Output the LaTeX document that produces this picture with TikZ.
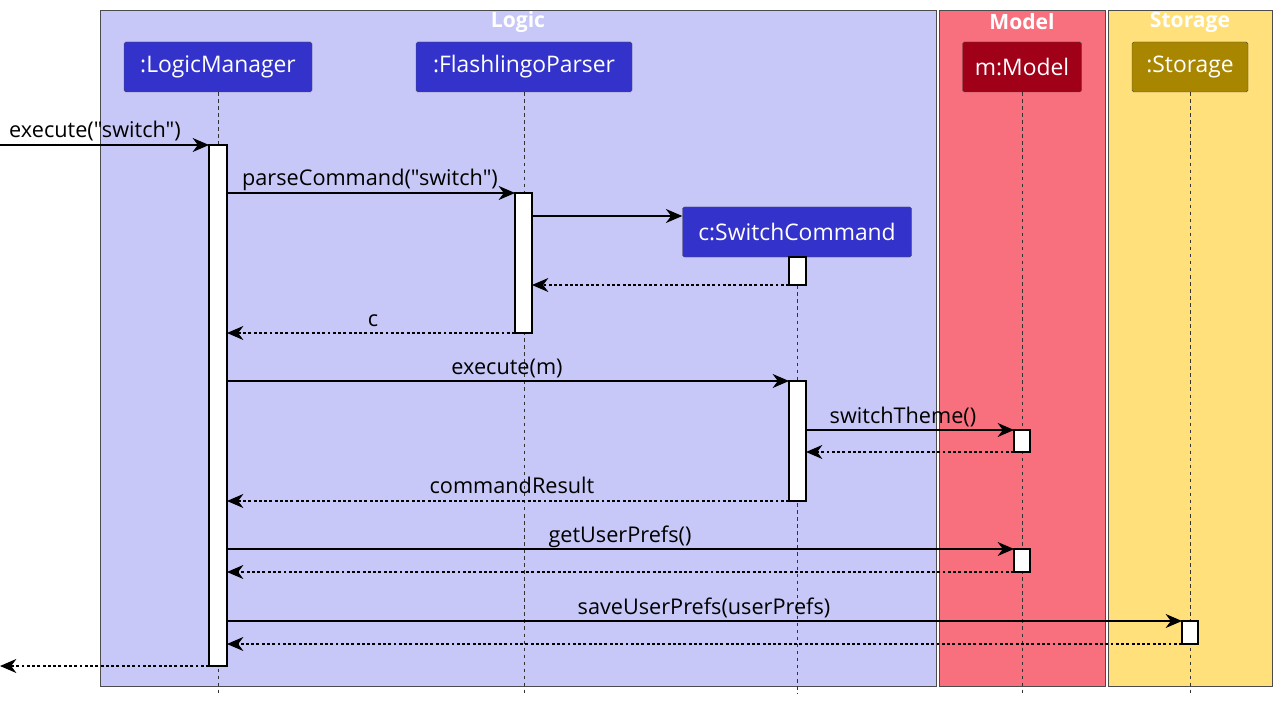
\documentclass[tikz,border=0pt]{standalone}
\usepackage{fontspec}
\setmainfont{Open Sans}[Mapping=]
\usetikzlibrary{arrows.meta}
\definecolor{logicbg}{HTML}{C8C8F8}
\definecolor{modelbg}{HTML}{F8707E}
\definecolor{storbg}{HTML}{FFE07A}
\definecolor{logicp}{HTML}{3333CC}
\definecolor{modelp}{HTML}{A00018}
\definecolor{storp}{HTML}{A98600}
\newcommand{\qq}{\symbol{34}}
\tikzset{
 part/.style={draw=black!70,rounded corners=1.5pt,text=white,minimum height=50*0.03cm,font=\fontsize{19.5}{22}\selectfont,inner sep=0},
 act/.style={draw=black,fill=white,line width=0.9pt},
 life/.style={dashed,black!80,line width=0.6pt},
 msg/.style={-{Stealth[length=14pt,width=12pt,inset=4.5pt]},line width=1pt},
 ret/.style={-{Stealth[length=14pt,width=12pt,inset=4.5pt]},dash pattern=on 2.5pt off 2pt,line width=1pt},
 lab/.style={font=\fontsize{18.5}{20}\selectfont,anchor=base},
 title/.style={text=white,font=\bfseries\fontsize{18}{20}\selectfont}
}
\begin{document}
\begin{tikzpicture}[x=0.03cm,y=-0.03cm]
\useasboundingbox (0,0) rectangle (1280,706);
\fill[white] (0,0) rectangle (1280,706);
\draw[fill=logicbg,draw=black!70] (100,10) rectangle (936,686);
\draw[fill=modelbg,draw=black!70] (939,10) rectangle (1105,686);
\draw[fill=storbg,draw=black!70] (1108,10) rectangle (1272,686);
\node[title] (tl) at (518,22) {Logic};
\node[title] (tm) at (1022,22) {Model};
\node[title] (ts) at (1190,22) {Storage};
% participants
\node[part,fill=logicp,minimum width=188*0.03cm] (lm) at (218,67) {:LogicManager};
\node[part,fill=logicp,minimum width=216*0.03cm] (fp) at (524,67) {:FlashlingoParser};
\node[part,fill=logicp,minimum width=229*0.03cm] (sc) at (797,232) {c:SwitchCommand};
\node[part,fill=modelp,minimum width=119*0.03cm] (mm) at (1022,67) {m:Model};
\node[part,fill=storp,minimum width=116*0.03cm] (st) at (1190,67) {:Storage};
\coordinate (lmE) at (218,694); \coordinate (fpE) at (524,694);
\coordinate (scE) at (797,694); \coordinate (mmE) at (1022,694); \coordinate (stE) at (1190,694);
\draw[life] (lm.south) -- (lmE);
\draw[life] (fp.south) -- (fpE);
\draw[life] (sc.south) -- (scE);
\draw[life] (mm.south) -- (mmE);
\draw[life] (st.south) -- (stE);
% activations
\draw[act] (209,145) rectangle (227,666);
\draw[act] (515,193) rectangle (532,333);
\draw[act] (789,257) rectangle (806,285);
\draw[act] (789,381) rectangle (806,501);
\draw[act] (1014,430) rectangle (1030,452);
\draw[act] (1014,549) rectangle (1030,572);
\draw[act] (1182,621) rectangle (1198,644);
% messages
\coordinate (in) at (0,145); \coordinate (out) at (0,666);
\draw[msg] (in) -- (209,145);
\node[lab] at (95,138) {execute(\qq switch\qq)};
\draw[msg] (227,193) -- (515,193);
\node[lab] at (370,186) {parseCommand(\qq switch\qq)};
\draw[msg] (532,216) -- (sc.west|-0,216);
\draw[ret] (789,285) -- (532,285);
\draw[ret] (515,333) -- (227,333);
\node[lab] at (373,326) {c};
\draw[msg] (227,381) -- (789,381);
\node[lab] at (507,374) {execute(m)};
\draw[msg] (806,430) -- (1014,430);
\node[lab] at (903,423) {switchTheme()};
\draw[ret] (1014,452) -- (806,452);
\draw[ret] (789,501) -- (227,501);
\node[lab] at (512,493) {commandResult};
\draw[msg] (227,549) -- (1014,549);
\node[lab] at (620,542) {getUserPrefs()};
\draw[ret] (1014,572) -- (227,572);
\draw[msg] (227,621) -- (1182,621);
\node[lab] at (704,614) {saveUserPrefs(userPrefs)};
\draw[ret] (1182,644) -- (227,644);
\draw[ret] (209,666) -- (out);
\end{tikzpicture}
\end{document}
